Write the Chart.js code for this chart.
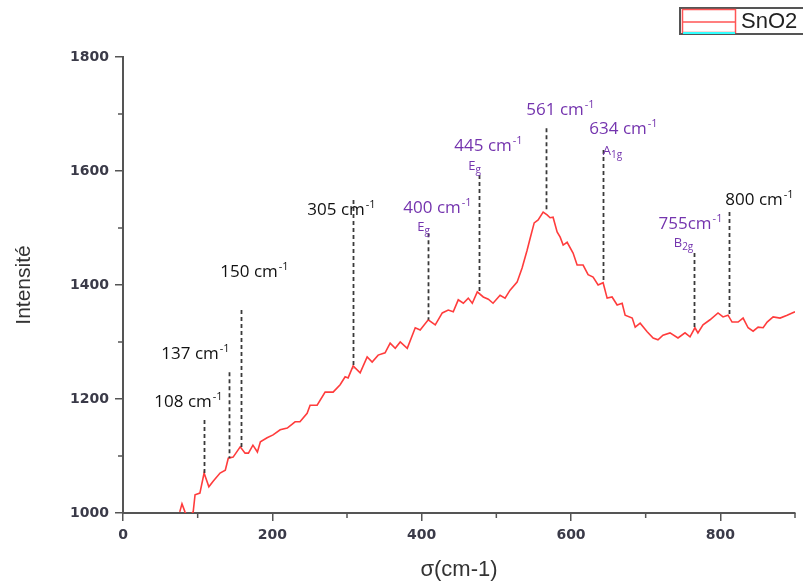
<!DOCTYPE html>
<html>
<head>
<meta charset="utf-8">
<script src="https://cdn.jsdelivr.net/npm/chart.js@4.4.0/dist/chart.umd.min.js"></script>
<style>
  html, body { margin: 0; padding: 0; background: #fff; }
</style>
</head>
<body>
<canvas id="grafico" width="803" height="585"></canvas>
<script>
// spectre Raman SnO2
const nombreOnde = [76, 79, 83, 87, 94, 96.5, 103, 108.6, 115, 121, 130, 137, 141, 147.5, 157, 163.5, 168, 174, 180, 184,
  193, 201, 210.5, 220, 230.5, 237, 246.6, 250.6, 260, 270.7, 281.4, 290.8, 297.5, 301.5, 308.2, 317.6, 327, 333.7, 341.7, 351,
  357.8, 364.6, 371.3, 380.7, 391.4, 398, 408.8, 418.2, 427.6, 435.6, 442.3, 449, 455.8, 462.4, 467.8, 474.5, 482.5, 489.3, 495.6, 505,
  511.7, 518.4, 527.8, 534.5, 541.2, 545.3, 550.7, 556, 562.7, 568, 572, 576, 581.4, 585.5, 589.5, 594.8, 602.8, 608.2, 616.2, 622.9,
  629.6, 636.3, 643, 648.4, 655, 661.8, 668.5, 672.5, 682, 686, 692.6, 702, 710, 716.5, 723.2, 732.6, 743.3, 752.7, 759.4, 766,
  770, 776.8, 786.2, 796.9, 803.6, 810.3, 815.7, 823.8, 830.5, 837.2, 843.9, 850.6, 857.3, 862.7, 870.7, 880, 889.5, 896.2, 900]
const intensite = [1002, 1016, 1002, 991, 1002, 1032, 1035, 1070, 1046, 1056, 1070, 1075, 1096, 1098, 1116, 1105, 1105, 1119, 1107, 1125,
  1132, 1137, 1146, 1149, 1160, 1160, 1175, 1189, 1189, 1212, 1212, 1225, 1239, 1237, 1258, 1246, 1274, 1265, 1277, 1281,
  1298, 1289, 1300, 1289, 1325, 1321, 1339, 1330, 1351, 1356, 1353, 1374, 1368, 1377, 1368, 1388, 1379, 1375, 1368, 1382,
  1377, 1391, 1405, 1430, 1461, 1482, 1509, 1514, 1528, 1523, 1518, 1519, 1493, 1484, 1470, 1475, 1456, 1435, 1435, 1418,
  1414, 1400, 1404, 1377, 1379, 1365, 1368, 1347, 1342, 1326, 1333, 1318, 1307, 1304, 1312, 1316, 1307, 1316, 1309, 1325,
  1316, 1330, 1339, 1351, 1344, 1347, 1335, 1335, 1342, 1325, 1319, 1326, 1325, 1335, 1344, 1342, 1347, 1351, 1353]

// pics annotés
const picPosition = [108, 142, 158, 308, 409, 477, 566, 643, 765, 812]
const picHaut = [1163, 1247, 1356, 1549, 1491, 1593, 1675, 1637, 1456, 1528]
const picBas = [1070, 1096, 1116, 1254, 1339, 1388, 1528, 1404, 1321, 1347]
const picTexte = ['108 cm', '137 cm', '150 cm', '305 cm', '400 cm', '445 cm', '561 cm', '634 cm', '755cm', '800 cm']
const picMode = [null, null, null, null, ['E', 'g'], ['E', 'g'], null, ['A', '1g'], ['B', '2g'], null]
const picViolet = [false, false, false, false, true, true, true, true, true, false]

const ticksX = [0, 200, 400, 600, 800]
const ticksY = [1000, 1200, 1400, 1600, 1800]
const mineursX = [100, 300, 500, 700, 900]
const mineursY = [1100, 1300, 1500, 1700]

// decalages des etiquettes par rapport au haut du trait (px)
const decalTexte = [[-16, -13], [-34, -13], [13, -33], [-12, 15], [9, -20], [9, -24], [14, -13], [20, -16], [-4, -24], [30, -7]]
const decalMode = [null, null, null, null, [-5, -2], [-5, -5], null, [9, 5], [-11, -6], null]

const violet = '#7434ae'
const couleurAxe = '#555'

function texteExposant(ctx, texte, cx, base, couleur) {
  ctx.font = '17px "Open Sans"'
  const w1 = ctx.measureText(texte).width
  ctx.font = '11px "Open Sans"'
  const w2 = ctx.measureText('-1').width
  const x0 = cx - (w1 + w2 + 1) / 2
  ctx.fillStyle = couleur
  ctx.textBaseline = 'alphabetic'
  ctx.textAlign = 'left'
  ctx.font = '17px "Open Sans"'
  ctx.fillText(texte, x0, base)
  ctx.font = '11px "Open Sans"'
  ctx.fillText('-1', x0 + w1 + 1, base - 7)
}

function texteIndice(ctx, lettre, indice, cx, base, couleur) {
  ctx.font = '13px "Open Sans"'
  const w1 = ctx.measureText(lettre).width
  ctx.font = '10px "Open Sans"'
  const w2 = ctx.measureText(indice).width
  const x0 = cx - (w1 + w2) / 2
  ctx.fillStyle = couleur
  ctx.textAlign = 'left'
  ctx.textBaseline = 'alphabetic'
  ctx.font = '13px "Open Sans"'
  ctx.fillText(lettre, x0, base)
  ctx.font = '10px "Open Sans"'
  ctx.fillText(indice, x0 + w1, base + 3)
}

const pluginPics = {
  id: 'pics',
  afterDatasetsDraw(chart) {
    const ctx = chart.ctx
    const sx = chart.scales.x
    const sy = chart.scales.y
    ctx.save()
    picPosition.forEach(function(p, i) {
      const x = Math.round(sx.getPixelForValue(p)) + 0.5
      const yh = sy.getPixelForValue(picHaut[i])
      const yb = sy.getPixelForValue(picBas[i])
      ctx.strokeStyle = '#3a3a3a'
      ctx.lineWidth = 1.8
      ctx.setLineDash([4, 3])
      ctx.beginPath()
      ctx.moveTo(x, yh)
      ctx.lineTo(x, yb)
      ctx.stroke()
      ctx.setLineDash([])
      const coul = picViolet[i] ? violet : '#111'
      texteExposant(ctx, picTexte[i], x + decalTexte[i][0], yh + decalTexte[i][1], coul)
      if (picMode[i]) {
        texteIndice(ctx, picMode[i][0], picMode[i][1], x + decalMode[i][0], yh + decalMode[i][1], coul)
      }
    })
    ctx.restore()
  }
}

const pluginMineurs = {
  id: 'mineurs',
  afterDraw(chart) {
    const ctx = chart.ctx
    const sx = chart.scales.x
    const sy = chart.scales.y
    const a = chart.chartArea
    ctx.save()
    ctx.strokeStyle = couleurAxe
    ctx.lineWidth = 1.5
    mineursX.forEach(function(v) {
      const x = sx.getPixelForValue(v)
      ctx.beginPath()
      ctx.moveTo(x, a.bottom)
      ctx.lineTo(x, a.bottom + 5)
      ctx.stroke()
    })
    mineursY.forEach(function(v) {
      const y = sy.getPixelForValue(v)
      ctx.beginPath()
      ctx.moveTo(a.left, y)
      ctx.lineTo(a.left - 5, y)
      ctx.stroke()
    })
    ctx.restore()
  }
}

const pluginLegende = {
  id: 'legendeSnO2',
  afterDraw(chart) {
    const ctx = chart.ctx
    ctx.save()
    ctx.fillStyle = '#fff'
    ctx.fillRect(680, 8, 130, 26)
    ctx.strokeStyle = '#555'
    ctx.lineWidth = 2
    ctx.strokeRect(680, 8, 130, 26)
    ctx.strokeStyle = '#ff5555'
    ctx.lineWidth = 1.5
    ctx.strokeRect(682.5, 9.5, 53, 23)
    ctx.beginPath()
    ctx.moveTo(682, 22)
    ctx.lineTo(735, 22)
    ctx.stroke()
    ctx.strokeStyle = '#33ffff'
    ctx.lineWidth = 2
    ctx.beginPath()
    ctx.moveTo(683, 33)
    ctx.lineTo(735, 33)
    ctx.stroke()
    ctx.fillStyle = '#222'
    ctx.font = '22px "Liberation Sans"'
    ctx.textBaseline = 'middle'
    ctx.textAlign = 'left'
    ctx.fillText('SnO2', 741, 22)
    ctx.restore()
  }
}

const fontTicks = { family: 'DejaVu Sans', size: 14, weight: 'bold' }
function etiquette(v) { return String(v) }

new Chart(document.getElementById('grafico'), {
  type: 'line',
  data: {
    datasets: [{
      label: 'SnO2',
      data: nombreOnde.map(function(x, i) { return { x: x, y: intensite[i] } }),
      borderColor: '#ff3c3c',
      borderWidth: 1.6,
      pointRadius: 0,
      tension: 0
    }]
  },
  options: {
    responsive: false,
    animation: false,
    devicePixelRatio: 1,
    layout: { padding: { top: 57, right: 8, left: 0, bottom: 0 } },
    plugins: { legend: { display: false }, tooltip: { enabled: false } },
    scales: {
      x: {
        type: 'linear',
        min: 0,
        max: 900,
        afterBuildTicks: function(scale) {
          scale.ticks = ticksX.map(function(v) { return { value: v } })
        },
        afterFit: function(scale) { scale.height = 72 },
        grid: { display: true, drawOnChartArea: false, tickLength: 8, color: couleurAxe, lineWidth: 1.5 },
        border: { display: true, color: couleurAxe, width: 2 },
        ticks: { font: fontTicks, color: '#3a3a48', padding: 6, maxRotation: 0, callback: etiquette },
        title: { display: true, text: 'σ(cm-1)', color: '#333', font: { family: 'Liberation Sans', size: 22 }, padding: { top: 0, bottom: 2 } }
      },
      y: {
        min: 1000,
        max: 1800,
        afterBuildTicks: function(scale) {
          scale.ticks = ticksY.map(function(v) { return { value: v } })
        },
        afterFit: function(scale) { scale.width = 123 },
        grid: { display: true, drawOnChartArea: false, tickLength: 8, color: couleurAxe, lineWidth: 1.5 },
        border: { display: true, color: couleurAxe, width: 2 },
        ticks: { font: fontTicks, color: '#3a3a48', padding: 6, callback: etiquette },
        title: { display: true, text: 'Intensité', color: '#333', font: { family: 'Liberation Sans', size: 21 }, padding: { top: 12, bottom: 0 } }
      }
    }
  },
  plugins: [pluginPics, pluginMineurs, pluginLegende]
})
</script>
</body>
</html>
